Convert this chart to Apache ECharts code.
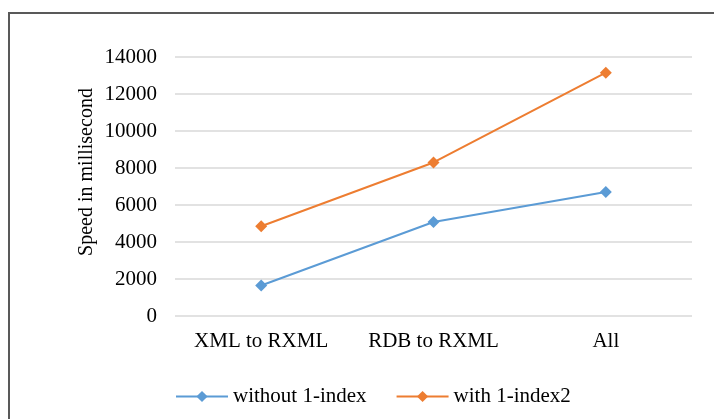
<!DOCTYPE html>
<html>
<head>
<meta charset="utf-8">
<script src="https://cdn.jsdelivr.net/npm/echarts@6/dist/echarts.min.js"></script>
<style>
html,body{margin:0;padding:0;background:#fff;}
#c{width:714px;height:419px;}
</style>
</head>
<body>
<div id="c"></div>
<script>
const categories = ["XML to RXML", "RDB to RXML", "All"];
const withoutIndex = [1650, 5080, 6700];
const withIndex2 = [4850, 8300, 13150];
const seriesNames = ["without 1-index", "with 1-index2"];
const yAxisTitle = "Speed in millisecond";

const font = "'Liberation Serif', 'Times New Roman', serif";
const chart = echarts.init(document.getElementById('c'));
chart.setOption({
  animation: false,
  backgroundColor: '#fff',
  grid: {left: 175, right: 22, top: 57, bottom: 103},
  graphic: [
    {type: 'rect', shape: {x: 9, y: 13, width: 800, height: 500}, style: {fill: 'none', stroke: '#595959', lineWidth: 2}},
    {type: 'text', x: 87, y: 172, rotation: Math.PI / 2,
     style: {text: yAxisTitle, font: "20px " + font, fill: '#000', textAlign: 'center', textVerticalAlign: 'middle'}}
  ],
  legend: {
    top: 386, left: 175, padding: 0,
    itemWidth: 52, itemHeight: 14, itemGap: 29,
    textStyle: {fontFamily: font, fontSize: 21, color: '#000'},
    data: seriesNames
  },
  xAxis: {
    type: 'category', data: categories, boundaryGap: true,
    axisLine: {show: false}, axisTick: {show: false},
    axisLabel: {fontFamily: font, fontSize: 21, color: '#000', margin: 15, interval: 0}
  },
  yAxis: {
    type: 'value', min: 0, max: 14000, interval: 2000,
    axisLine: {show: false}, axisTick: {show: false},
    axisLabel: {fontFamily: font, fontSize: 21, color: '#000', margin: 18, formatter: function (v) { return String(v); }},
    splitLine: {lineStyle: {color: '#d9d9d9', width: 1.5}}
  },
  series: [
    {name: seriesNames[0], type: 'line', data: withoutIndex, symbol: 'diamond', symbolSize: 12,
     itemStyle: {color: '#5b9bd5'}, lineStyle: {color: '#5b9bd5', width: 2}},
    {name: seriesNames[1], type: 'line', data: withIndex2, symbol: 'diamond', symbolSize: 12,
     itemStyle: {color: '#ed7d31'}, lineStyle: {color: '#ed7d31', width: 2}}
  ]
});
</script>
</body>
</html>
